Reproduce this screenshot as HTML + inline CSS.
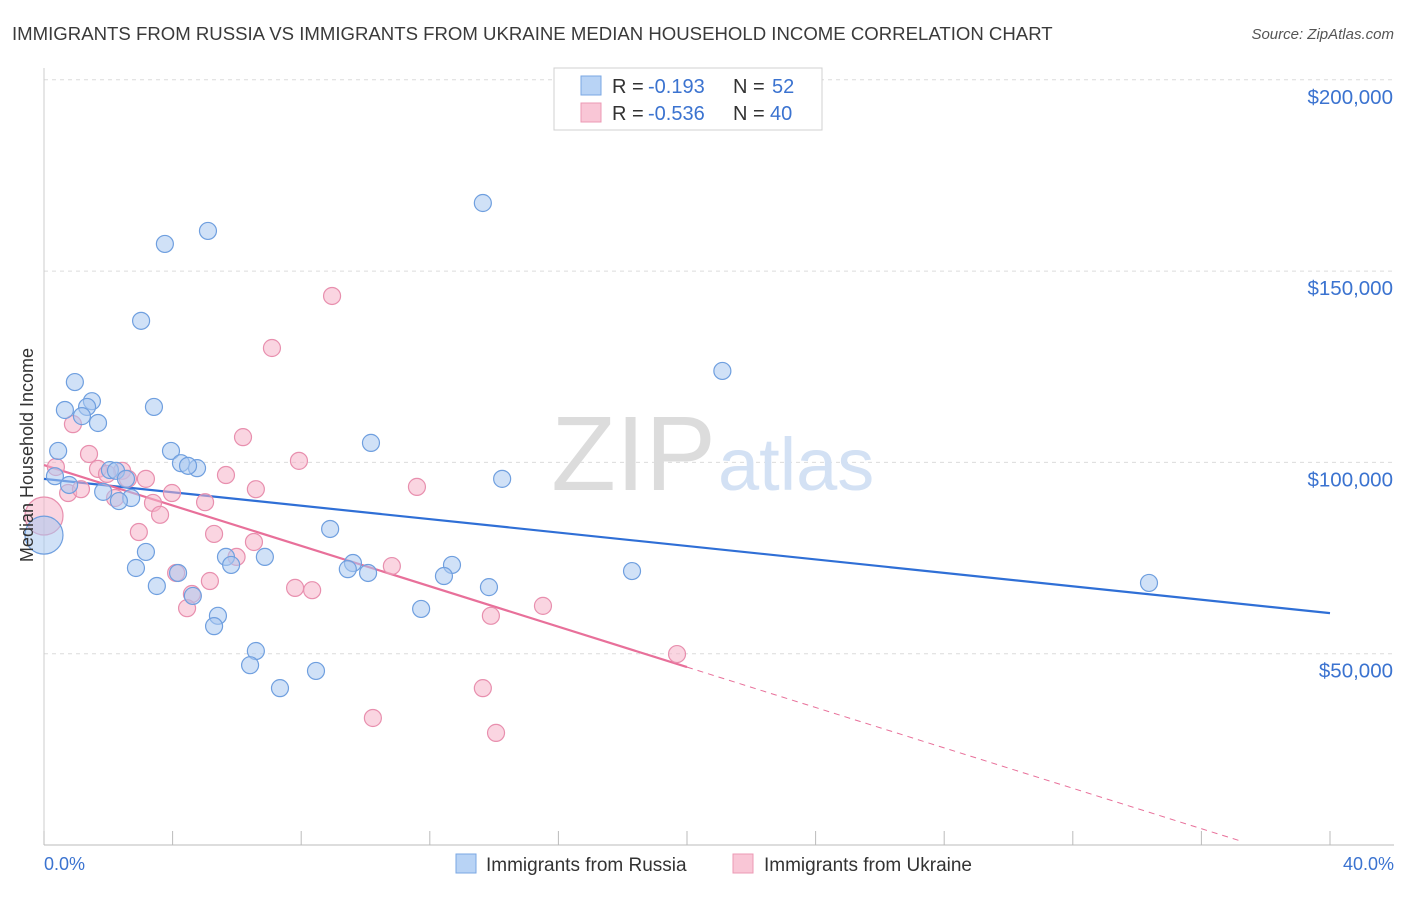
<!DOCTYPE html>
<html><head><meta charset="utf-8"><style>
body{margin:0;background:#fff;font-family:"Liberation Sans",sans-serif}
svg text{font-family:"Liberation Sans",sans-serif}
</style></head><body>
<svg id="chart" width="1406" height="892" viewBox="0 0 1406 892" xmlns="http://www.w3.org/2000/svg">
<text x="12" y="40" font-size="18.6" fill="#3a3a3a">IMMIGRANTS FROM RUSSIA VS IMMIGRANTS FROM UKRAINE MEDIAN HOUSEHOLD INCOME CORRELATION CHART</text>
<text x="1394" y="39" font-size="15" fill="#555" font-style="italic" text-anchor="end">Source: ZipAtlas.com</text>
<g id="grid"></g>
<g id="axes"></g>
<text x="716" y="490" font-size="106" fill="#dcdcdc" text-anchor="end" font-family="Liberation Serif">ZIP</text>
<text x="718" y="490" font-size="74" fill="#d3e1f4">atlas</text>
<g id="lines"></g>
<g id="pts"></g>
<text transform="translate(33,455) rotate(-90)" font-size="18" fill="#333" text-anchor="middle">Median Household Income</text>
<text x="44" y="870" font-size="18" fill="#3b73d0">0.0%</text>
<text x="1394" y="870" font-size="18" fill="#3b73d0" text-anchor="end">40.0%</text>
<g>
<rect x="554" y="68" width="268" height="62" fill="#fff" stroke="#d0d0d0"/>
<rect x="581" y="76" width="20" height="19" fill="#b8d3f5" stroke="#7aa7e3"/>
<rect x="581" y="103" width="20" height="19" fill="#f9c6d6" stroke="#ec99b4"/>
<text x="612" y="93" font-size="20" fill="#333">R =</text>
<text x="648" y="93" font-size="20" fill="#3b73d0">-0.193</text>
<text x="733" y="93" font-size="20" fill="#333">N =</text>
<text x="772" y="93" font-size="20" fill="#3b73d0">52</text>
<text x="612" y="120" font-size="20" fill="#333">R =</text>
<text x="648" y="120" font-size="20" fill="#3b73d0">-0.536</text>
<text x="733" y="120" font-size="20" fill="#333">N =</text>
<text x="770" y="120" font-size="20" fill="#3b73d0">40</text>
</g>
<g>
<rect x="456" y="854" width="20" height="19" fill="#b8d3f5" stroke="#7aa7e3"/>
<text x="486" y="871" font-size="19" fill="#333">Immigrants from Russia</text>
<rect x="733" y="854" width="20" height="19" fill="#f9c6d6" stroke="#ec99b4"/>
<text x="764" y="871" font-size="19" fill="#333">Immigrants from Ukraine</text>
</g>
</svg>
<script>
const yTicks=[50000,100000,150000,200000];
const yTickLabels=["$50,000","$100,000","$150,000","$200,000"];
const xTicks=[0,4,8,12,16,20,24,28,32,36,40];
const russiaX=[13.65,5.1,3.76,3.02,21.1,0.96,0.65,1.49,1.34,1.18,1.68,3.42,0.44,10.17,3.95,4.26,4.76,4.48,2.05,2.24,0.34,0.78,2.55,14.25,1.84,2.71,2.33,0,8.9,3.17,5.66,6.87,5.82,9.61,12.69,2.86,9.45,10.08,18.29,12.44,4.17,3.51,13.84,34.37,4.63,5.41,11.73,5.29,6.59,6.41,8.46,7.34];
const russiaY=[167.8,160.5,157.1,137.0,123.9,121.0,113.7,116.0,114.5,112.1,110.3,114.5,103.0,105.1,103.0,99.8,98.5,99.1,98.0,97.8,96.4,94.1,95.7,95.7,92.3,90.7,89.9,81.0,82.6,76.6,75.3,75.3,73.2,73.7,73.2,72.4,72.1,71.1,71.6,70.3,71.1,67.7,67.4,68.5,65.1,59.9,61.7,57.2,50.7,47.0,45.5,41.0];
const ukraineX=[8.96,7.09,6.19,0.90,1.40,7.93,0.37,1.68,2.43,1.96,5.66,3.17,2.61,0.75,1.15,3.98,6.59,11.6,2.21,3.39,5.01,0,3.61,2.95,5.29,6.53,5.99,10.82,4.11,5.16,7.81,8.34,4.60,4.45,15.52,13.9,19.69,13.65,10.23,14.06];
const ukraineY=[143.5,129.9,106.6,110.0,102.2,100.4,98.8,98.3,97.8,97.0,96.7,95.7,95.7,92.0,93.0,92.0,93.0,93.6,90.7,89.4,89.6,86.0,86.3,81.8,81.3,79.2,75.3,72.9,71.1,69.0,67.2,66.6,65.6,61.9,62.5,59.9,49.9,41.0,33.2,29.3];
const russiaTrend=[95.7,60.6];   // at x=0 and x=40
const ukraineTrend=[99.3,46.5];  // at x=0 and x=20
const NS="http://www.w3.org/2000/svg";
const X=v=>44+v*32.15, Y=v=>845-v*3.826/1000;
function mk(t,a,p){const e=document.createElementNS(NS,t);for(const k in a)e.setAttribute(k,a[k]);document.getElementById(p).appendChild(e);return e;}
yTicks.forEach((v,i)=>{
 const l=mk('line',{x1:44,x2:1394,y1:Y(v),y2:Y(v),stroke:'#dcdcdc','stroke-dasharray':'4,4'},'grid');
 
 
 const t=mk('text',{x:1393,y:Y(v)+24,'font-size':20.5,fill:'#3b73d0','text-anchor':'end'},'grid');t.textContent=yTickLabels[i];
 
 
});
const ax=mk('line',{x1:44,x2:1394,y1:845,y2:845,stroke:'#bbb'},'axes');


const ay=mk('line',{x1:44,x2:44,y1:68,y2:845,stroke:'#ccc'},'axes');


xTicks.forEach(v=>{const t=mk('line',{x1:X(v),x2:X(v),y1:831,y2:845,stroke:'#bbb'},'axes');
 
 });
function dot(x,y,big,f,s){const c=mk('circle',{cx:X(x),cy:Y(y*1000),r:big?19:8.5,fill:f,'fill-opacity':0.55,stroke:s,'stroke-width':1.2},'pts');return c;}
ukraineX.forEach((x,i)=>{const c=dot(x,ukraineY[i],x===0,'#f5b3c8','#e88fae');
 
 });
russiaX.forEach((x,i)=>{const c=dot(x,russiaY[i],x===0,'#a9c8f0','#6f9fdf');
 
 });
const rl=mk('line',{x1:X(0),y1:Y(russiaTrend[0]*1000),x2:X(40),y2:Y(russiaTrend[1]*1000),stroke:'#2f6fd6','stroke-width':2.2},'lines');


const ul=mk('line',{x1:X(0),y1:Y(ukraineTrend[0]*1000),x2:X(20),y2:Y(ukraineTrend[1]*1000),stroke:'#e8709a','stroke-width':2.2},'lines');


const sl=(ukraineTrend[1]-ukraineTrend[0])/20;
const ud=mk('line',{x1:X(20),y1:Y(ukraineTrend[1]*1000),x2:X(37.3),y2:Y((ukraineTrend[0]+sl*37.3)*1000),stroke:'#e8709a','stroke-width':1,'stroke-dasharray':'6,5'},'lines');


</script>
</body></html>
